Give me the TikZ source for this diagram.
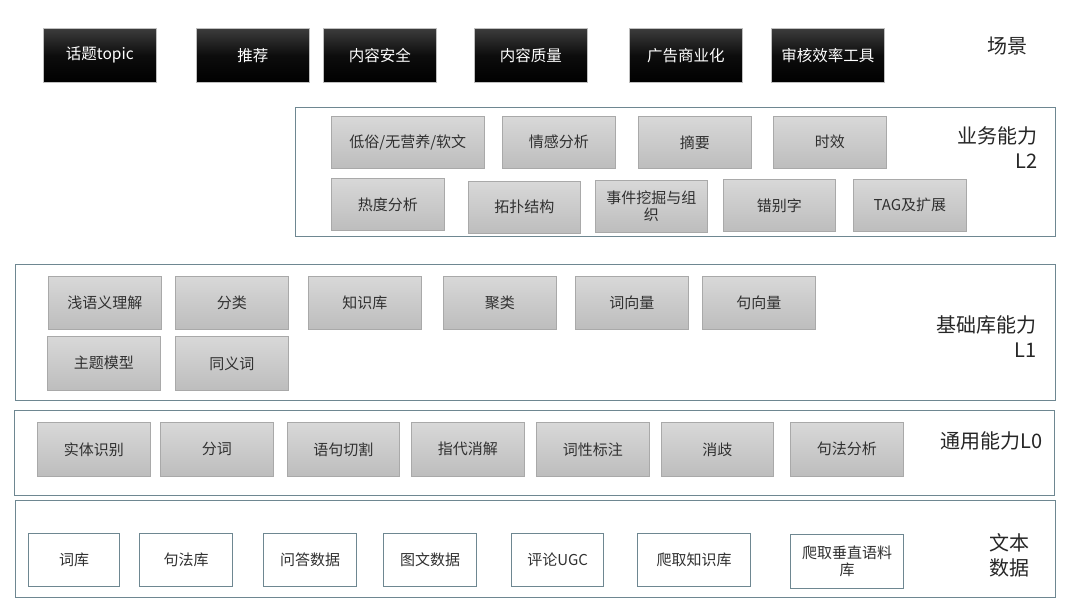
\documentclass[tikz,border=0pt]{standalone}
\usepackage{fontspec}
\setmainfont{Noto Sans CJK SC}
\definecolor{frm}{HTML}{6E8791}
\definecolor{gtop}{HTML}{D8D8D8}
\definecolor{gbot}{HTML}{BDBDBD}
\definecolor{gedge}{HTML}{A9A9A9}
\definecolor{txt}{HTML}{303030}
\definecolor{btop}{HTML}{3C3C3C}
\begin{document}
\begin{tikzpicture}[x=1pt,y=-1pt,
  frame/.style={anchor=north west, inner sep=0pt, draw=frm, line width=1.4pt, fill=white},
  blk/.style={anchor=north west, inner sep=0pt, top color=btop, bottom color=black, middle color=black!95, draw=gray!50, line width=0.6pt, text=white, font=\fontsize{15.5}{18}\selectfont, minimum width=113, minimum height=54},
  gbx/.style={anchor=north west, inner sep=0pt, top color=gtop, bottom color=gbot, draw=gedge, line width=0.6pt, text=txt, font=\fontsize{15}{17}\selectfont, align=center, minimum height=52},
  wbx/.style={anchor=north west, inner sep=0pt, fill=white, draw=frm, line width=1.3pt, text=txt, font=\fontsize{15}{17}\selectfont, align=center, minimum height=53},
  lab/.style={inner sep=0pt, text=black!85, font=\fontsize{20}{25}\selectfont}]
\useasboundingbox (0,0) rectangle (1080,604);
% scene row
\node[blk] (s1) at (43,28) {话题topic};
\node[blk] (s2) at (196,28) {推荐};
\node[blk] (s3) at (323,28) {内容安全};
\node[blk] (s4) at (474,28) {内容质量};
\node[blk] (s5) at (629,28) {广告商业化};
\node[blk] (s6) at (771,28) {审核效率工具};
\node[lab] (sl) at (1007,46) {场景};
% L2
\node[frame, minimum width=760, minimum height=129] (L2) at (295,107) {};
\node[gbx, minimum width=153] (a1) at (331,116) {低俗/无营养/软文};
\node[gbx, minimum width=113] (a2) at (502,116) {情感分析};
\node[gbx, minimum width=113] (a3) at (638,116) {摘要};
\node[gbx, minimum width=113] (a4) at (773,116) {时效};
\node[gbx, minimum width=113] (a5) at (331,178) {热度分析};
\node[gbx, minimum width=112] (a6) at (468,181) {拓扑结构};
\node[gbx, minimum width=112, font=\fontsize{15}{17}\selectfont] (a7) at (595,180) {事件挖掘与组\\织};
\node[gbx, minimum width=112] (a8) at (723,179) {错别字};
\node[gbx, minimum width=113] (a9) at (853,179) {TAG及扩展};
\node[lab, anchor=east, align=right] (l2l) at (1038,148) {业务能力\\L2};
% L1
\node[frame, minimum width=1040, minimum height=136] (L1) at (15,264) {};
\node[gbx, minimum width=113, minimum height=53] (b1) at (48,276) {浅语义理解};
\node[gbx, minimum width=113, minimum height=53] (b2) at (175,276) {分类};
\node[gbx, minimum width=113, minimum height=53] (b3) at (308,276) {知识库};
\node[gbx, minimum width=113, minimum height=53] (b4) at (443,276) {聚类};
\node[gbx, minimum width=113, minimum height=53] (b5) at (575,276) {词向量};
\node[gbx, minimum width=113, minimum height=53] (b6) at (702,276) {句向量};
\node[gbx, minimum width=113, minimum height=54] (b7) at (47,336) {主题模型};
\node[gbx, minimum width=113, minimum height=54] (b8) at (175,336) {同义词};
\node[lab, anchor=east, align=right] (l1l) at (1037,337) {基础库能力\\L1};
% L0
\node[frame, minimum width=1040, minimum height=85] (L0) at (14,410) {};
\node[gbx, minimum width=113, minimum height=54] (c1) at (37,422) {实体识别};
\node[gbx, minimum width=113, minimum height=54] (c2) at (160,422) {分词};
\node[gbx, minimum width=112, minimum height=54] (c3) at (287,422) {语句切割};
\node[gbx, minimum width=113, minimum height=54] (c4) at (411,422) {指代消解};
\node[gbx, minimum width=113, minimum height=54] (c5) at (536,422) {词性标注};
\node[gbx, minimum width=112, minimum height=54] (c6) at (661,422) {消歧};
\node[gbx, minimum width=113, minimum height=54] (c7) at (790,422) {句法分析};
\node[lab, anchor=east] (l0l) at (1043,441) {通用能力L0};
% text data
\node[frame, minimum width=1040, minimum height=97] (D) at (15,500) {};
\node[wbx, minimum width=91] (d1) at (28,533) {词库};
\node[wbx, minimum width=93] (d2) at (139,533) {句法库};
\node[wbx, minimum width=93] (d3) at (263,533) {问答数据};
\node[wbx, minimum width=93] (d4) at (383,533) {图文数据};
\node[wbx, minimum width=92] (d5) at (511,533) {评论UGC};
\node[wbx, minimum width=113] (d6) at (637,533) {爬取知识库};
\node[wbx, minimum width=113, minimum height=54, font=\fontsize{15}{17}\selectfont] (d7) at (790,534) {爬取垂直语料\\库};
\node[lab, align=center] (dl) at (1009,555) {文本\\数据};
\end{tikzpicture}
\end{document}
